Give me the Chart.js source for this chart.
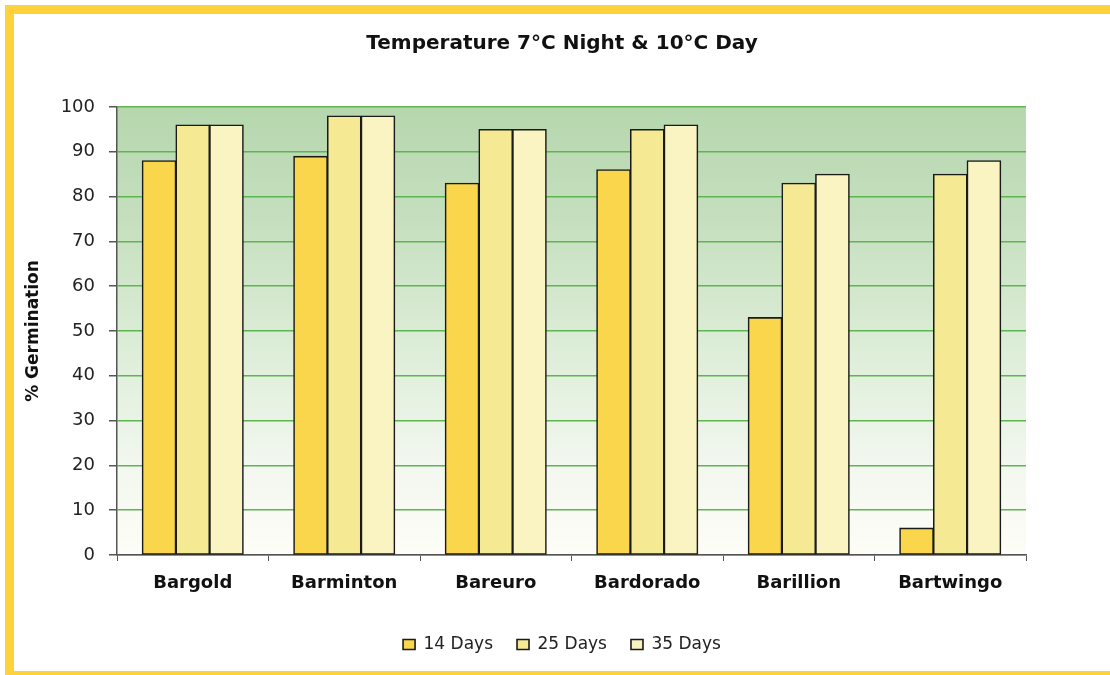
<!DOCTYPE html>
<html>
<head>
<meta charset="utf-8">
<script src="https://cdn.jsdelivr.net/npm/chart.js@4/dist/chart.umd.min.js"></script>
<style>
  html, body { margin: 0; padding: 0; background: #ffffff; }
  #wrap { width: 1110px; height: 675px; position: relative; }
</style>
</head>
<body>
<div id="wrap"><canvas id="c" width="1110" height="675"></canvas></div>
<script>
const chartTitle = 'Temperature 7°C Night & 10°C Day';
const yAxisTitle = '% Germination';
const categories = ['Bargold', 'Barminton', 'Bareuro', 'Bardorado', 'Barillion', 'Bartwingo'];
const seriesNames = ['14 Days', '25 Days', '35 Days'];
const days14 = [88, 89, 83, 86, 53, 6];
const days25 = [96, 98, 95, 95, 83, 85];
const days35 = [96, 98, 95, 96, 85, 88];
const yTicks = [0, 10, 20, 30, 40, 50, 60, 70, 80, 90, 100];

const FONT = "'DejaVu Sans', sans-serif";
const seriesColors = ['#f9d64c', '#f5ea93', '#faf4c2'];

const framePlugin = {
  id: 'frame',
  beforeDraw(chart) {
    const ctx = chart.ctx;
    const a = chart.chartArea;
    ctx.save();
    ctx.fillStyle = '#ffffff';
    ctx.fillRect(0, 0, chart.width, chart.height);
    ctx.fillStyle = '#fed23c';
    ctx.fillRect(5, 5, chart.width - 5, 9);
    ctx.fillRect(5, 5, 9, chart.height - 5);
    ctx.fillRect(5, 671, chart.width - 5, 4);
    const g = ctx.createLinearGradient(0, a.top, 0, a.bottom);
    g.addColorStop(0, '#b6d7ae');
    g.addColorStop(0.25, '#c5dfbe');
    g.addColorStop(0.55, '#deeed9');
    g.addColorStop(0.8, '#f2f7ef');
    g.addColorStop(1, '#fefdf8');
    ctx.fillStyle = g;
    ctx.fillRect(a.left, a.top, a.right - a.left, a.bottom - a.top);
    ctx.restore();
  }
};

const datasets = [days14, days25, days35].map((vals, i) => ({
  label: seriesNames[i],
  data: vals,
  backgroundColor: seriesColors[i],
  borderColor: '#1a1a1a',
  borderWidth: 1.6,
  borderSkipped: false,
  inflateAmount: 0.5,
  categoryPercentage: 0.667,
  barPercentage: 1.0,
  yAxisID: 'y'
}));

new Chart(document.getElementById('c'), {
  type: 'bar',
  data: { labels: categories, datasets: datasets },
  plugins: [framePlugin],
  options: {
    responsive: false,
    animation: false,
    devicePixelRatio: 1,
    layout: { padding: { left: 14, right: 0, top: 14, bottom: 12 } },
    plugins: {
      title: {
        display: true,
        text: chartTitle,
        color: '#111111',
        font: { family: FONT, size: 20, weight: 'bold', lineHeight: 1.2 },
        padding: { top: 18, bottom: 51 }
      },
      legend: {
        display: true,
        position: 'bottom',
        labels: {
          color: '#222222',
          font: { family: FONT, size: 17 },
          boxWidth: 12,
          boxHeight: 10,
          padding: 24
        }
      },
      tooltip: { enabled: false }
    },
    scales: {
      x: {
        grid: {
          drawOnChartArea: false,
          drawTicks: true,
          tickLength: 6,
          tickColor: '#555555',
          offset: true
        },
        border: { display: true, color: '#555555', width: 1.5 },
        ticks: {
          color: '#111111',
          font: { family: FONT, size: 18, weight: 'bold' },
          padding: 12,
          maxRotation: 0
        },
        afterFit(scale) { scale.height = 57; }
      },
      y: {
        position: 'left',
        min: 0,
        max: 100,
        afterBuildTicks(scale) { scale.ticks = yTicks.map(v => ({ value: v })); },
        grid: {
          color: '#5db64f',
          lineWidth: 1.5,
          drawTicks: true,
          tickLength: 8,
          tickColor: '#555555'
        },
        border: { display: true, color: '#555555', width: 1.5 },
        ticks: {
          color: '#222222',
          font: { family: FONT, size: 18 },
          padding: 14
        },
        title: {
          display: true,
          text: yAxisTitle,
          color: '#111111',
          font: { family: FONT, size: 17, weight: 'bold', lineHeight: 1.2 },
          padding: { top: 9, bottom: 0 }
        },
        afterFit(scale) { scale.width = 103; }
      },
      spacer: {
        type: 'linear',
        position: 'right',
        display: true,
        min: 0,
        max: 100,
        grid: { display: false, drawOnChartArea: false, drawTicks: false },
        border: { display: false },
        ticks: { display: false },
        afterFit(scale) { scale.width = 84; }
      }
    }
  }
});
</script>
</body>
</html>
